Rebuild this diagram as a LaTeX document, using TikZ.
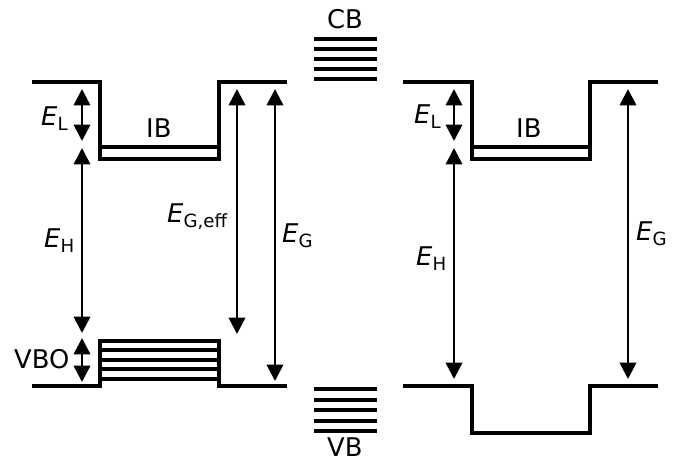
\documentclass[tikz,border=0pt]{standalone}
\usepackage{fontspec}
\setmainfont{DejaVu Sans}
\usetikzlibrary{arrows.meta}
\newcommand{\En}[1]{\textit{E}\raisebox{-4.5pt}{\fontsize{15.5}{16}\selectfont #1}}

\begin{document}
\begin{tikzpicture}[x=0.03cm, y=-0.03cm,
  band/.style={line width=2.8pt},
  dbl/.style={line width=2.2pt, {Triangle[length=14pt,width=14pt]}-{Triangle[length=14pt,width=14pt]}},
  lbl/.style={inner sep=0pt, anchor=base west, font=\fontsize{22}{24}\selectfont}]
\useasboundingbox (0,0) rectangle (679,464);
% left: QD with IB and VB offset
\draw[band] (32,82) -- (100,82) -- (100,159) -- (219,159) -- (219,82) -- (287,82);
\draw[band] (100,147) -- (219,147);
\draw[band] (32,386) -- (100,386) -- (100,341) -- (219,341) -- (219,386) -- (287,386);
\foreach \y in {350,360,369,379} \draw[band] (100,\y) -- (219,\y);
% bulk bands
\foreach \y in {39,49,59,69,79} \draw[band] (314,\y) -- (377,\y);
\foreach \y in {389,400,410,421,431} \draw[band] (314,\y) -- (377,\y);
% right: QD without VB offset
\draw[band] (403,82) -- (472,82) -- (472,159) -- (590,159) -- (590,82) -- (658,82);
\draw[band] (472,147) -- (590,147);
\draw[band] (403,386) -- (472,386) -- (472,433) -- (590,433) -- (590,386) -- (658,386);

\coordinate (aLt) at (82,89);   \coordinate (aLb) at (82,141);
\coordinate (aHt) at (82,148);  \coordinate (aHb) at (82,333);
\coordinate (aVt) at (82,338);  \coordinate (aVb) at (82,382);
\coordinate (aEt) at (237,89);  \coordinate (aEb) at (237,334);
\coordinate (aGt) at (275,89);  \coordinate (aGb) at (275,381);
\coordinate (bLt) at (454,89);  \coordinate (bLb) at (454,141);
\coordinate (bHt) at (454,148); \coordinate (bHb) at (454,379);
\coordinate (bGt) at (628,89);  \coordinate (bGb) at (628,379);
\draw[dbl] (aLt) -- (aLb);
\draw[dbl] (aHt) -- (aHb);
\draw[dbl] (aVt) -- (aVb);
\draw[dbl] (aEt) -- (aEb);
\draw[dbl] (aGt) -- (aGb);
\draw[dbl] (bLt) -- (bLb);
\draw[dbl] (bHt) -- (bHb);
\draw[dbl] (bGt) -- (bGb);

\node[lbl] (cb) at (327,28) {CB};
\node[lbl] (vb) at (327,456) {VB};
\node[lbl] (aL) at (41,125) {\En{L}};
\node[lbl] (aIB) at (146,137) {IB};
\node[lbl] (aH) at (44,247) {\En{H}};
\node[lbl] (aE) at (167,222) {\En{G,eff}};
\node[lbl] (aG) at (282,242) {\En{G}};
\node[lbl] (aV) at (14,368) {VBO};
\node[lbl] (bL) at (414,123) {\En{L}};
\node[lbl] (bIB) at (516,137) {IB};
\node[lbl] (bH) at (416,265) {\En{H}};
\node[lbl] (bG) at (636,240) {\En{G}};
\end{tikzpicture}
\end{document}
